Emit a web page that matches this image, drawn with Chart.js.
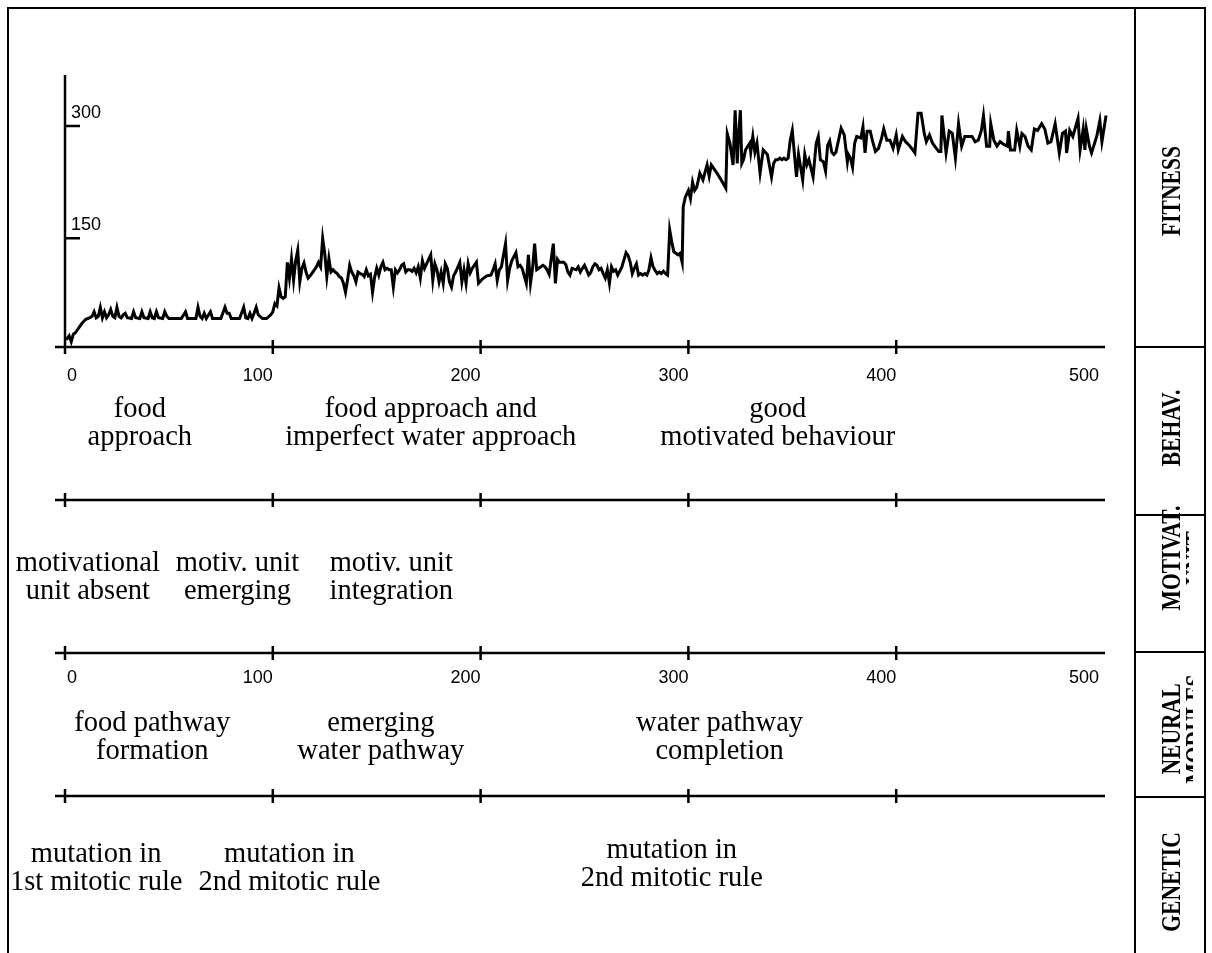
<!DOCTYPE html>
<html>
<head>
<meta charset="utf-8">
<script src="https://cdn.jsdelivr.net/npm/chart.js@4/dist/chart.umd.min.js"></script>
<style>
  html, body { margin: 0; padding: 0; background: #fff; }
  canvas { display: block; }
</style>
</head>
<body>
<canvas id="evo" width="1212" height="953"></canvas>
<script>
(() => {

//----- Data -----//

    // generation of each point
    var gens = [
        0,1,2,3,4,5,6,8,10,12,
        13,14,15,16,17,18,19,20,21,22,23,24,25,26,27,28,29,30,32,33,34,36,37,38,40,41,42,43,44,45,47,48,49,50,
        52,54,56,58,59,61,63,64,65,66,67,68,70,71,73,75,77,78,79,80,82,84,86,87,88,89,90,91,92,93,95,97,99,100,
        101,102,103,104,105,106,107,108,109,110,111,112,113,114,115,116,117,118,119,120,
        121,122,123,124,125,126,127,128,129,130,131,132,133,134,135,136,137,138,139,140,
        141,142,143,144,145,146,147,148,149,150,
        151,152,153,154,155,156,157,158,159,160,161,162,163,164,165,166,167,168,169,170,171,172,173,174,
        176,177,178,179,180,181,182,183,184,185,186,187,188,
        190,191,192,193,194,195,196,198,199,
        201,203,205,206,207,208,209,210,212,213,214,215,217,218,219,220,221,222,223,224,
        225,226,227,228,230,231,232,233,235,236,237,238,240,241,242,243,244,246,247,248,249,250,
        251,252,253,254,255,256,257,258,259,260,261,262,263,264,265,266,268,
        270,271,272,273,274,275,276,277,278,279,280,281,282,283,284,285,286,287,288,289,
        290,291,292,293,294,295,296,297,
        297.5,298.5,300,301,302,303,304,305.5,307,309,310,311,312,313,314,316,317,318,318.7,320,
        321.5,322.5,323.5,324,325,325.7,326.5,327.5,329.5,330,331,332,333,334.5,336,337,338,340,341,342,
        343,344,345,346,347,348,349,350,
        352,353,355,356,357,358,360,361.5,362.5,363.5,365,366,367,368,369,370,371,373.5,375,376.5,
        377,378,379,380,381,383,384,385,386,387.5,388.5,390,391.5,393,394,395.5,397,398.5,400,
        401,403,404.5,406,407.5,409,410.5,412,413.5,414.5,416,417.5,419,420.5,421.5,422,424,425.5,427,428.5,
        430,431.5,433,435,436.5,438,439.5,441,442,443.5,445,445.5,447,448.5,450,452,453.5,454,455,457,
        458,459.5,460.5,462,463.5,465,466.5,468,470,471.5,473,474.5,476.5,478.5,480,481.5,482,483.5,485,487.5,
        488.5,490,490.8,491.5,493,494,496.5,498,499,501
    ]

    // fitness value of each point
    var fitness = [
        17,16,20,12,22,24,28,36,42,44,
        46,52,44,46,58,44,52,44,48,55,46,44,58,46,44,48,50,44,43,52,44,43,52,44,43,52,44,43,52,44,43,52,46,43,
        43,43,43,52,43,43,43,58,46,43,50,43,52,43,43,43,58,50,50,43,43,43,58,44,43,50,43,50,58,48,43,43,48,52,
        63,60,84,72,70,72,118,97,123,94,120,134,92,110,117,105,97,100,104,108,
        112,118,112,150,130,99,123,105,108,105,103,99,97,90,78,95,114,105,100,92,
        105,103,102,99,108,100,102,78,98,110,
        101,112,118,108,110,108,108,85,108,104,108,114,116,105,108,108,106,110,104,112,97,120,110,116,
        128,94,116,108,92,105,90,116,110,92,85,100,105,
        118,92,108,90,116,104,110,118,90,
        96,100,101,108,116,94,108,112,143,94,110,120,131,112,114,110,100,90,128,90,
        110,143,108,110,114,112,108,102,143,90,122,118,118,115,105,101,110,108,112,105,110,114,
        108,101,104,112,116,114,108,110,103,97,108,90,112,106,108,101,112,
        131,127,118,103,110,116,101,103,101,103,101,108,124,112,107,103,105,103,106,103,
        101,161,145,132,130,128,130,118,
        192,205,214,203,225,214,218,237,228,248,233,248,244,240,236,227,222,217,290,277,
        248,321,250,280,321,250,255,268,277,265,286,265,277,237,268,265,262,232,250,255,
        255,257,255,257,255,257,281,294,
        232,262,228,262,248,255,232,277,286,255,252,240,274,280,265,262,265,297,288,252,
        262,257,245,277,286,284,299,264,293,293,281,266,270,284,296,281,281,270,288,
        268,286,279,275,270,264,317,317,290,279,288,277,271,266,266,314,264,293,290,257,
        303,273,286,286,286,279,281,294,314,273,273,303,281,273,279,275,273,293,268,268,
        294,273,290,286,273,268,296,294,303,296,277,279,303,264,290,293,264,294,286,310,
        268,296,268,296,273,264,286,307,279,314
    ]

    var xTicks = [0, 100, 200, 300, 400, 500]
    var yTicks = [150, 300]

    // text blocks under the plot, centred on a generation
    var behavLabels = [['food', 'approach'], ['food approach and', 'imperfect water approach'], ['good', 'motivated behaviour']]
    var behavAt = [36, 176, 343]
    var motivLabels = [['motivational', 'unit absent'], ['motiv. unit', 'emerging'], ['motiv. unit', 'integration']]
    var motivAt = [11, 83, 157]
    var neuralLabels = [['food pathway', 'formation'], ['emerging', 'water pathway'], ['water pathway', 'completion']]
    var neuralAt = [42, 152, 315]
    var geneticLabels = [['mutation in', '1st mitotic rule'], ['mutation in', '2nd mitotic rule'], ['mutation in', '2nd mitotic rule']]
    var geneticAt = [15, 108, 292]

    var panelLabels = [['FITNESS'], ['BEHAV.'], ['MOTIVAT.', 'UNIT'], ['NEURAL', 'MODULES'], ['GENETIC']]

//----- Layout -----//

    var axisRows = [347, 500, 653, 796]
    var panelLines = [347, 515, 652, 797]
    var panelMid = [191, 428, 558, 729, 882]
    var panelClip = [1193, 1193, 1189, 1193, 1193]
    var serif = '"Liberation Serif", "Times New Roman", serif'
    var sans = '"Liberation Sans", Arial, sans-serif'

//----- Plugin drawing axes, frame and text -----//

    function textBlock(ctx, lines, x, y) {
        ctx.textAlign = 'center'
        ctx.textBaseline = 'alphabetic'
        lines.forEach((l, i) => ctx.fillText(l, x, y + i * 28))
    }

    const decor = {
        id: 'decor',
        afterDraw(chart) {
            const ctx = chart.ctx
            const xs = chart.scales.x
            const ys = chart.scales.y
            const px = (g) => xs.getPixelForValue(g)
            const x0 = px(0)
            const xEnd = px(500)

            ctx.save()
            ctx.strokeStyle = '#000'
            ctx.fillStyle = '#000'
            ctx.lineWidth = 2

            // frame
            ctx.beginPath()
            ctx.moveTo(8, 953); ctx.lineTo(8, 8); ctx.lineTo(1205, 8); ctx.lineTo(1205, 953)
            ctx.moveTo(1135, 8); ctx.lineTo(1135, 953)
            panelLines.forEach((y) => { ctx.moveTo(1135, y); ctx.lineTo(1205, y) })
            ctx.stroke()

            // y axis
            ctx.lineWidth = 2.5
            ctx.beginPath()
            ctx.moveTo(x0, ys.top); ctx.lineTo(x0, ys.bottom + 7)
            yTicks.forEach((v) => {
                const y = ys.getPixelForValue(v)
                ctx.moveTo(x0, y); ctx.lineTo(x0 + 15, y)
            })
            ctx.stroke()
            ctx.font = '18px ' + sans
            ctx.textAlign = 'left'
            ctx.textBaseline = 'alphabetic'
            yTicks.forEach((v) => ctx.fillText(String(v), x0 + 6, ys.getPixelForValue(v) - 8))

            // horizontal time axes
            axisRows.forEach((row, r) => {
                ctx.beginPath()
                ctx.moveTo(x0 - 10, row); ctx.lineTo(xEnd + 1, row)
                xTicks.forEach((t) => {
                    if (t === 500 || (r === 0 && t === 0)) return
                    ctx.moveTo(px(t), row - 7); ctx.lineTo(px(t), row + 7)
                })
                ctx.stroke()
            })

            // tick numbers under row 0 and row 2
            ctx.font = '18px ' + sans
            ctx.textAlign = 'center'
            ;[[axisRows[0], 34], [axisRows[2], 30]].forEach(([row, dy]) => {
                xTicks.forEach((t) => {
                    const shift = t === 0 ? 7 : (t === 500 ? -20 : -15)
                    ctx.fillText(String(t), px(t) + shift, row + dy)
                })
            })

            // descriptive text
            ctx.font = '28.5px ' + serif
            behavLabels.forEach((l, i) => textBlock(ctx, l, px(behavAt[i]), 417))
            motivLabels.forEach((l, i) => textBlock(ctx, l, px(motivAt[i]), 571))
            neuralLabels.forEach((l, i) => textBlock(ctx, l, px(neuralAt[i]), 731))
            geneticLabels.forEach((l, i) => textBlock(ctx, l, px(geneticAt[i]), i === 2 ? 858 : 862))

            // side panel labels
            ctx.font = 'bold 27px ' + serif
            panelLabels.forEach((lines, i) => {
                ctx.save()
                ctx.beginPath()
                ctx.rect(1137, 9, panelClip[i] - 1137, 944)
                ctx.clip()
                ctx.translate(1180, panelMid[i])
                ctx.rotate(-Math.PI / 2)
                ctx.scale(0.8, 1)
                ctx.textAlign = 'center'
                ctx.textBaseline = 'alphabetic'
                lines.forEach((l, k) => ctx.fillText(l, 0, k * 24))
                ctx.restore()
            })

            ctx.restore()
        }
    }

//----- Create Chart -----//

    const points = gens.map((g, i) => ({ x: g, y: fitness[i] }))

    const evoChart = new Chart(document.getElementById('evo'), {
        type: 'line',
        data: {
            datasets: [{
                data: points,
                borderColor: '#000',
                borderWidth: 3,
                pointRadius: 0,
                tension: 0,
                clip: false
            }]
        },
        options: {
            responsive: false,
            animation: false,
            layout: { padding: { left: 65, right: 108, top: 75, bottom: 606 } },
            plugins: { legend: { display: false }, tooltip: { enabled: false } },
            scales: {
                x: { type: 'linear', min: 0, max: 500, display: false },
                y: { min: 5, max: 368, display: false }
            }
        },
        plugins: [decor]
    })

})();
</script>
</body>
</html>
